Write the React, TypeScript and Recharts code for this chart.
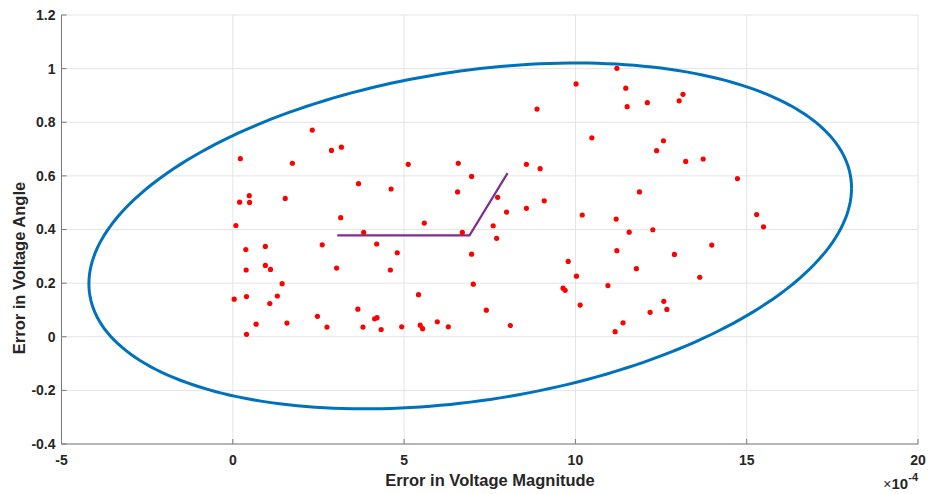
import React from 'react';
import { ScatterChart, Scatter, XAxis, YAxis, CartesianGrid, Label } from 'recharts';

// ---- data (x in units of 1e-4) ----
const magnitudeErrors = [
  2.32, 2.88, 3.17, 0.22, 1.74, 5.12, 6.58, 3.67, 4.62, 6.56, 0.48, 0.20, 0.49, 1.53, 0.09, 3.15, 5.59, 3.82,
  0.38, 0.95, 2.61, 4.20, 4.80, 0.39, 0.95, 1.10, 3.03, 4.60, 1.44, 0.04, 0.40, 1.30, 1.08, 5.42, 3.65, 0.68,
  1.58, 2.47, 2.75, 0.40, 3.80, 4.14, 4.21, 4.33, 4.93, 5.47, 5.54, 5.97, 6.29,
  11.21, 10.02, 11.47, 11.51, 12.10, 13.14, 13.03, 8.88, 10.48, 12.57, 12.37, 13.22, 6.97, 8.57, 8.97, 7.73,
  9.09, 7.99, 8.57, 11.87, 10.20, 11.19, 7.60, 7.70, 6.70, 11.57, 12.26, 11.21, 6.97, 12.89, 11.78, 9.79,
  10.03, 7.02, 9.64, 9.70, 10.95, 13.63, 7.40, 10.14, 12.58, 12.67, 12.18, 8.10, 11.39, 11.16,
  13.73, 14.73, 15.29, 15.49, 13.98,
];
const angleErrors = [
  0.771, 0.695, 0.707, 0.664, 0.647, 0.643, 0.647, 0.571, 0.551, 0.540, 0.526, 0.502, 0.501, 0.516, 0.415, 0.444, 0.424, 0.389,
  0.325, 0.337, 0.343, 0.346, 0.313, 0.249, 0.266, 0.251, 0.256, 0.249, 0.198, 0.140, 0.150, 0.152, 0.124, 0.157, 0.103, 0.047,
  0.051, 0.076, 0.036, 0.009, 0.036, 0.067, 0.071, 0.027, 0.037, 0.043, 0.030, 0.056, 0.037,
  1.001, 0.943, 0.927, 0.858, 0.873, 0.904, 0.880, 0.849, 0.742, 0.731, 0.694, 0.654, 0.598, 0.643, 0.627, 0.520,
  0.507, 0.465, 0.479, 0.540, 0.454, 0.439, 0.414, 0.367, 0.389, 0.390, 0.399, 0.321, 0.308, 0.307, 0.254, 0.281,
  0.226, 0.196, 0.181, 0.173, 0.191, 0.222, 0.099, 0.118, 0.132, 0.102, 0.091, 0.042, 0.052, 0.019,
  0.663, 0.590, 0.456, 0.410, 0.342,
];

// purple polyline
const pathX = [3.05, 6.91, 8.02];
const pathY = [0.378, 0.378, 0.61];

// blue ellipse, read as centre + offset to its right-most point + offset to its top-most point
const ellipseCenter = [6.93, 0.376];
const ellipseRightOffset = [11.13, 0.176];
const ellipseTopOffset = [3.12, 0.645];

const xTicks = [-5, 0, 5, 10, 15, 20];
const yTicks = [-0.4, -0.2, 0, 0.2, 0.4, 0.6, 0.8, 1, 1.2];

const xTitle = 'Error in Voltage Magnitude';
const yTitle = 'Error in Voltage Angle';

const dots = magnitudeErrors.map((x, i) => ({ x, y: angleErrors[i] }));
const pathPts = pathX.map((x, i) => ({ x, y: pathY[i] }));

function buildEllipse() {
  const sxx = ellipseRightOffset[0] * ellipseRightOffset[0];
  const sxy = (ellipseRightOffset[0] * ellipseRightOffset[1] + ellipseTopOffset[0] * ellipseTopOffset[1]) / 2;
  const syy = ellipseTopOffset[1] * ellipseTopOffset[1];
  const l11 = Math.sqrt(sxx);
  const l21 = sxy / l11;
  const l22 = Math.sqrt(Math.max(syy - l21 * l21, 0));
  const pts: { x: number; y: number }[] = [];
  const n = 240;
  for (let i = 0; i <= n; i++) {
    const t = (2 * Math.PI * i) / n;
    const c = Math.cos(t);
    const s = Math.sin(t);
    pts.push({ x: ellipseCenter[0] + l11 * c, y: ellipseCenter[1] + l21 * c + l22 * s });
  }
  return pts;
}
const ellipsePts = buildEllipse();

const FONT = '"Liberation Sans", Arial, Helvetica, sans-serif';
const AXIS_COLOR = '#7a7a7a';
const TEXT_COLOR = '#262626';

const tickStyle = { fill: TEXT_COLOR, fontSize: 14, fontWeight: 700, fontFamily: FONT };

const noShape = () => <g />;
const dotShape = (p: any) => <circle cx={p.cx} cy={p.cy} r={2.6} fill="#ff0000" />;

export default function App() {
  return (
    <div style={{ position: 'absolute', left: 0, top: 0, width: 946, height: 494, background: '#ffffff' }}>
      <ScatterChart width={946} height={494} margin={{ top: 15, right: 28, bottom: 0, left: 0 }}>
        <CartesianGrid stroke="#e4e4e4" strokeWidth={1} />
        <XAxis
          type="number"
          dataKey="x"
          domain={[-5, 20]}
          ticks={xTicks}
          interval={0}
          allowDataOverflow
          height={50}
          tickSize={-5}
          tickMargin={16}
          stroke={AXIS_COLOR}
          tick={tickStyle}
        >
          <Label
            content={() => (
              <text x={490} y={486} textAnchor="middle" fill={TEXT_COLOR} fontSize={16.5} fontWeight={700} fontFamily={FONT}>
                {xTitle}
              </text>
            )}
          />
        </XAxis>
        <XAxis
          xAxisId="top"
          orientation="top"
          type="number"
          domain={[-5, 20]}
          ticks={xTicks}
          interval={0}
          allowDataOverflow
          height={0}
          tickSize={-5}
          tick={false}
          stroke={AXIS_COLOR}
        />
        <YAxis
          type="number"
          dataKey="y"
          domain={[-0.4, 1.2]}
          ticks={yTicks}
          interval={0}
          allowDataOverflow
          width={61.5}
          tickSize={-5}
          tickMargin={11}
          stroke={AXIS_COLOR}
          tick={tickStyle}
        >
          <Label
            content={() => (
              <text
                x={25}
                y={268}
                transform="rotate(-90 25 268)"
                textAnchor="middle"
                fill={TEXT_COLOR}
                fontSize={16.5}
                fontWeight={700}
                fontFamily={FONT}
              >
                {yTitle}
              </text>
            )}
          />
        </YAxis>
        <YAxis
          yAxisId="right"
          orientation="right"
          type="number"
          domain={[-0.4, 1.2]}
          ticks={yTicks}
          interval={0}
          allowDataOverflow
          width={0}
          tickSize={-5}
          tick={false}
          stroke={AXIS_COLOR}
        />
        <Scatter
          data={ellipsePts}
          line={{ stroke: '#0072BD', strokeWidth: 3 }}
          lineType="joint"
          shape={noShape}
          isAnimationActive={false}
        />
        <Scatter
          data={pathPts}
          line={{ stroke: '#7E2F8E', strokeWidth: 2.2 }}
          lineType="joint"
          shape={noShape}
          isAnimationActive={false}
        />
        <Scatter data={dots} shape={dotShape} isAnimationActive={false} />
        <text x={918} y={489} textAnchor="end" fill={TEXT_COLOR} fontFamily={FONT}>
          <tspan fontSize={14}>×</tspan>
          <tspan fontSize={15} fontWeight={700}>10</tspan>
          <tspan fontSize={11} fontWeight={700} dy={-8}>-4</tspan>
        </text>
      </ScatterChart>
    </div>
  );
}
